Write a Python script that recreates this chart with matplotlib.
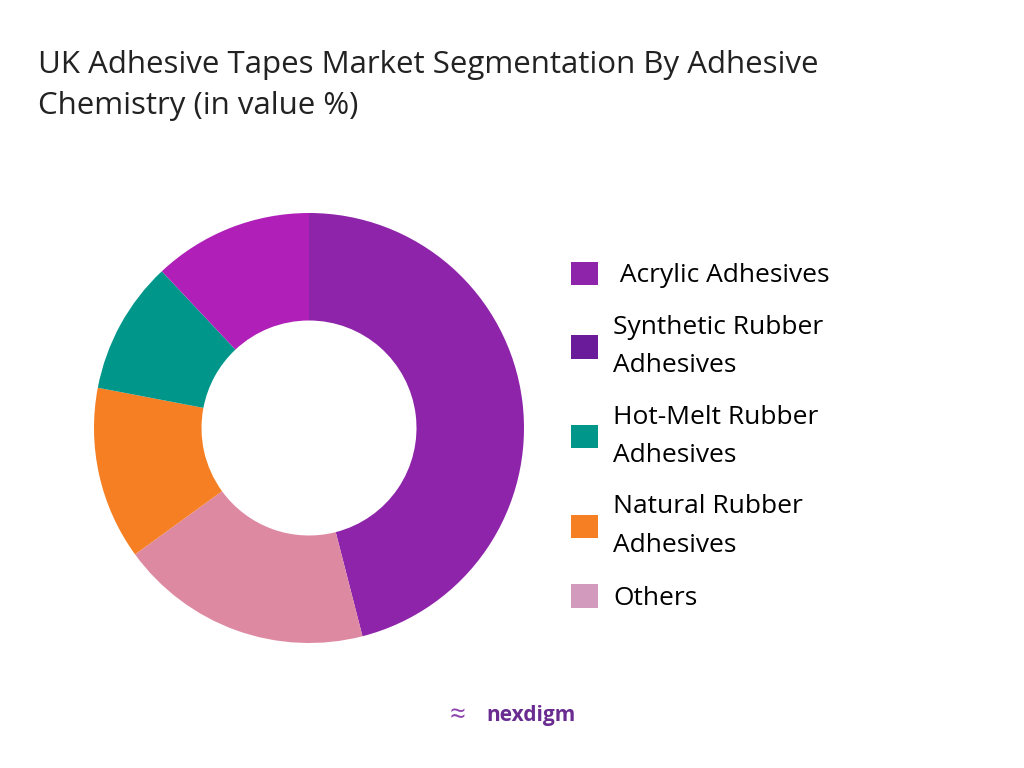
import matplotlib
matplotlib.use("Agg")
import matplotlib.pyplot as plt
from matplotlib.patches import Patch

categories = ["Acrylic Adhesives", "Others", "Natural Rubber Adhesives", "Hot-Melt Rubber Adhesives", "Synthetic Rubber Adhesives"]
values = [46, 19, 13, 10, 12]
pie_colors = ["#8E24AA", "#DE89A2", "#F57F22", "#00968A", "#B020B8"]

legend_labels = [" Acrylic Adhesives", "Synthetic Rubber\nAdhesives", "Hot-Melt Rubber\nAdhesives", "Natural Rubber\nAdhesives", "Others"]
legend_colors = ["#8E24AA", "#6A1B9A", "#00968A", "#F57F22", "#D29BBE"]

plt.rcParams['font.family'] = ['Open Sans', 'DejaVu Sans']
fig = plt.figure(figsize=(10.24, 7.68), dpi=100)
fig.text(0.037, 0.935, "UK Adhesive Tapes Market Segmentation By Adhesive\nChemistry (in value %)",
         fontsize=22.5, va="top", ha="left", linespacing=1.5, color="#222222")

ax = fig.add_axes([94/1024, 125/768, 430/1024, 430/768])
ax.pie(values, colors=pie_colors, startangle=90, counterclock=False,
       wedgeprops=dict(width=0.5, edgecolor="none"))
ax.set_xlim(-1, 1)
ax.set_ylim(-1, 1)
ax.set_aspect("equal")

handles = [Patch(facecolor=c) for c in legend_colors]
leg = fig.legend(handles, legend_labels, loc="center left", bbox_to_anchor=(0.545, 0.432),
                 frameon=False, fontsize=19, handlelength=1.0, handleheight=1.0,
                 labelspacing=1.0, handletextpad=0.6, borderpad=0)
for t in leg.get_texts():
    t.set_linespacing(1.7)

fig.text(0.475, 0.068, "nexdigm", fontsize=15, fontweight="bold", color="#6A2C91", ha="left", va="center")
fig.text(0.447, 0.068, "\u2248", fontsize=20, color="#8E44AD", ha="center", va="center")
fig.savefig("out.png", dpi=100, facecolor="white")
